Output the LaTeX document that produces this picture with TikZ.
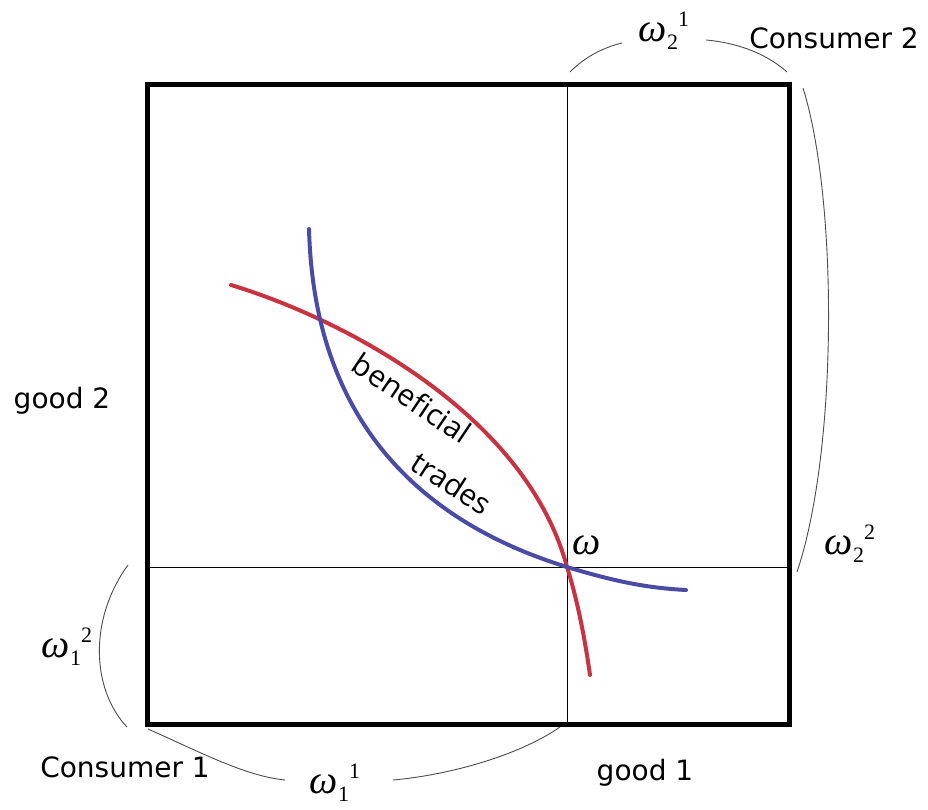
\documentclass[tikz,border=0pt]{standalone}
\usepackage{fontspec}
\setmainfont{DejaVu Sans}
\newfontfamily\handfont{Open Sans}
\newfontfamily\omfont{Liberation Serif}
\newcommand{\omlab}[2]{{\omfont\fontsize{40}{40}\selectfont\itshape ω}\raisebox{-8pt}{\omfont\fontsize{22}{22}\selectfont #1}\raisebox{15pt}{\omfont\fontsize{22}{22}\selectfont #2}}
\begin{document}
\begin{tikzpicture}[x=1pt,y=-1pt,
  lbl/.style={inner sep=0pt,font=\fontsize{28}{28}\selectfont},
  omg/.style={inner sep=0pt},
  hand/.style={inner sep=0pt,font=\handfont\fontsize{30}{30}\selectfont},
  brace/.style={draw=black!70,line width=0.9pt},
  redc/.style={draw={rgb,255:red,200;green,50;blue,65},line width=4pt,line cap=round},
  bluec/.style={draw={rgb,255:red,75;green,75;blue,165},line width=4pt,line cap=round}]
\useasboundingbox (0,0) rectangle (928,810);
% box
\coordinate (tl) at (147,85);
\coordinate (br) at (789,724);
\coordinate (w) at (567,567);
\draw[line width=0.8pt] (567,85) -- (567,724);
\draw[line width=0.8pt] (147,567) -- (789,567);
\draw[line width=5pt] (tl) rectangle (br);
% curves
\draw[redc] (231,285) .. controls (340,318) and (525,412) .. (w) .. controls (578,602) and (585,640) .. (590,675);
\draw[bluec] (309,229) .. controls (312,340) and (350,500) .. (w) .. controls (620,583) and (650,588) .. (686,590);
% braces
\draw[brace] (570,72) .. controls (585,57) and (602,48) .. (622,43);
\draw[brace] (706,40) .. controls (740,43) and (768,55) .. (787,72);
\draw[brace] (803,88) .. controls (838,200) and (838,450) .. (797,572);
\draw[brace] (128,565) .. controls (88,620) and (92,690) .. (127,727);
\draw[brace] (148,729) .. controls (200,752) and (245,776) .. (285,780);
\draw[brace] (393,780) .. controls (450,775) and (520,755) .. (560,727);
% labels
\node[lbl] (c2) at (834,38) {Consumer 2};
\node[lbl] (g2) at (62,401) {good 2};
\node[lbl] (c1) at (125,767) {Consumer 1};
\node[lbl] (g1) at (645,773) {good 1};
\node[omg] (o21) at (664,31) {\omlab{2}{1}};
\node[omg] (o22) at (850,544) {\omlab{2}{2}};
\node[omg] (o12) at (67,647) {\omlab{1}{2}};
\node[omg] (o11) at (335,783) {\omlab{1}{1}};
\node[omg] (om) at (587,545) {{\omfont\fontsize{40}{40}\selectfont\itshape ω}};
\node[hand,rotate=-34] (bt) at (412,398) {beneficial};
\node[hand,rotate=-33] (tt) at (452,483) {trades};
\end{tikzpicture}
\end{document}
